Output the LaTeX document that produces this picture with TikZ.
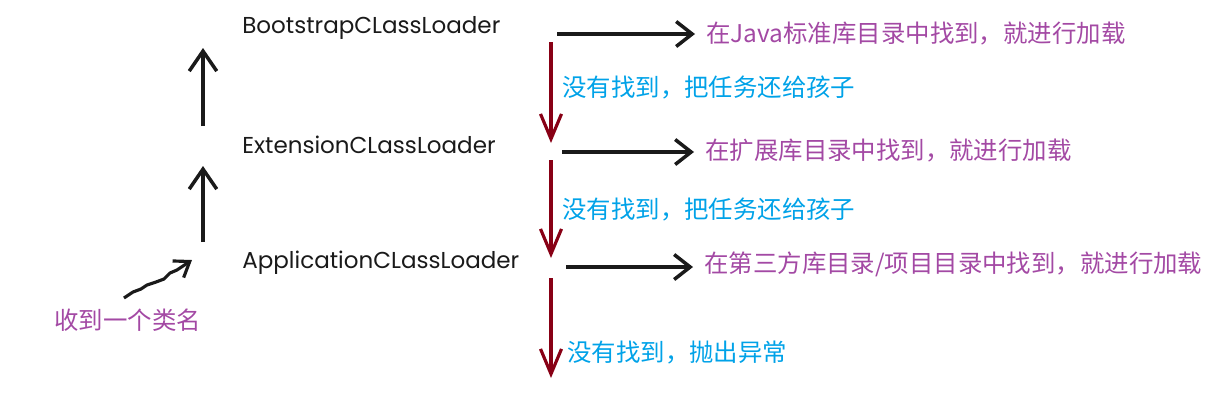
\documentclass[tikz,border=0pt]{standalone}
\usepackage{fontspec}
\setmainfont{Poppins}
\newfontfamily\cjk{Noto Sans CJK SC}
\usetikzlibrary{arrows.meta,positioning}
\definecolor{ink}{HTML}{1A1A1A}
\definecolor{plum}{HTML}{A349A4}
\definecolor{sky}{HTML}{00A2E8}
\definecolor{maroon}{HTML}{880015}

\begin{document}
\begin{tikzpicture}[
  x=0.02cm, y=-0.02cm,
  loader/.style={anchor=west, inner sep=0pt, text=ink, font=\fontsize{13.1}{15}\selectfont},
  found/.style={anchor=west, inner sep=0pt, text=plum, font=\cjk\fontsize{13.9}{16}\selectfont},
  miss/.style={anchor=west, inner sep=0pt, text=sky, font=\cjk\fontsize{13.9}{16}\selectfont},
  up/.style={-{Straight Barb[length=0.4cm,width=0.55cm]}, line width=2pt, draw=ink},
  push/.style={-{Straight Barb[length=0.32cm,width=0.5cm]}, line width=2pt, draw=ink, shorten >=0.22cm},
  down/.style={-{Straight Barb[length=0.5cm,width=0.42cm]}, line width=1.8pt, draw=maroon}
]
\useasboundingbox (0,0) rectangle (1217,393);
% the three loaders
\node[loader] (boot) at (242,28) {BootstrapCLassLoader};
\node[loader] (ext) at (242,145) {ExtensionCLassLoader};
\node[loader] (app) at (242,263) {ApplicationCLassLoader};
\node[anchor=west, inner sep=0pt, text=plum, font=\cjk\fontsize{13.9}{16}\selectfont] (recv) at (54,320) {收到一个类名};
% what happens at each level
\node[found] (found1) at (706,34) {在Java标准库目录中找到，就进行加载};
\node[found] (found2) at (705,151) {在扩展库目录中找到，就进行加载};
\node[found] (found3) at (704,264) {在第三方库目录/项目目录中找到，就进行加载};
\node[miss] (miss1) at (562,87) {没有找到，把任务还给孩子};
\node[miss] (miss2) at (562,209) {没有找到，把任务还给孩子};
\node[miss] (miss3) at (567,353) {没有找到，抛出异常};
% arrow ends
\coordinate (extup) at (203,126);
\coordinate (boottip) at (203,48);
\coordinate (appup) at (203,242);
\coordinate (exttip) at (203,166);
\coordinate (tail) at (124,298);
\coordinate (head) at (192,260);
\coordinate (bootout) at (557,34);
\coordinate (extout) at (562,152);
\coordinate (appout) at (566,267);
\coordinate (down1) at (551,42);
\coordinate (down1end) at (551,143);
\coordinate (down2) at (551,160);
\coordinate (down2end) at (551,258);
\coordinate (down3) at (551,278);
\coordinate (down3end) at (551,378);
% going up
\draw[up] (extup) -- (boottip);
\draw[up] (appup) -- (exttip);
\draw[-{Straight Barb[length=0.28cm,width=0.4cm]}, line width=1.8pt, draw=ink]
  (tail) -- ++(9,-6) -- ++(8,-3) -- ++(6,-4) -- ++(9,-3) -- ++(8,-3) -- ++(6,-6) -- ++(7,-3) -- ++(6,-4) -- (head);
% loading
\draw[push] (bootout) -- (found1.west |- bootout);
\draw[push] (extout) -- (found2.west |- extout);
\draw[push] (appout) -- (found3.west |- appout);
% going down
\draw[down] (down1) -- (down1end);
\draw[down] (down2) -- (down2end);
\draw[down] (down3) -- (down3end);
\end{tikzpicture}
\end{document}
